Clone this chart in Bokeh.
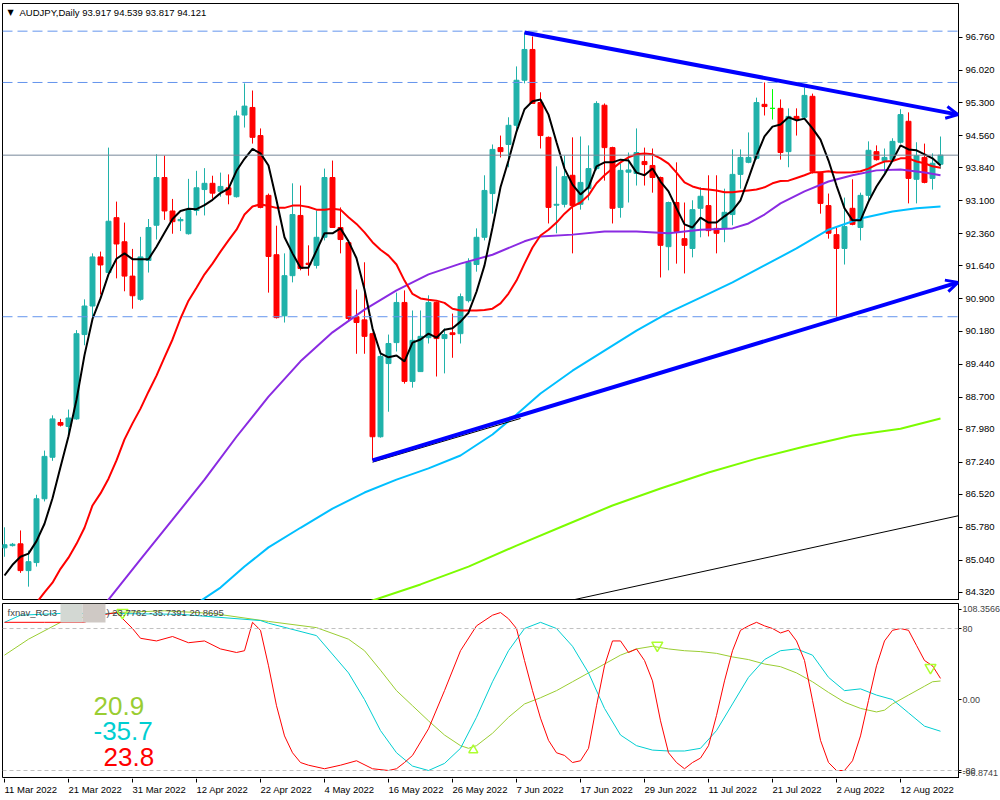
from bokeh.plotting import figure
from bokeh.layouts import column
from bokeh.core.properties import value
from bokeh.models import (Range1d, FixedTicker, PrintfTickFormatter, Span, Label,
                          Arrow, OpenHead, BoxAnnotation)
from bokeh.embed import file_html
from bokeh.resources import INLINE

FONT = "Liberation Sans"
FS = "9.5px"

# ---------------- data ----------------
date_labels = ["11 Mar 2022", "21 Mar 2022", "31 Mar 2022", "12 Apr 2022", "22 Apr 2022",
               "4 May 2022", "16 May 2022", "26 May 2022", "7 Jun 2022", "17 Jun 2022",
               "29 Jun 2022", "11 Jul 2022", "21 Jul 2022", "2 Aug 2022", "12 Aug 2022"]
date_label_bars = [0, 8, 16, 24, 32, 40, 48, 56, 64, 72, 80, 88, 96, 104, 112]

opens = [85.32, 85.37, 85.41, 84.81, 84.99, 86.42, 87.35, 88.13, 88.04, 88.21,
         90.10, 90.74, 91.84, 91.49, 92.72, 92.18, 91.41, 90.89, 91.76, 92.55,
         93.62, 92.87, 92.65, 92.36, 92.88, 93.35, 93.49, 93.31, 93.39, 93.19,
         95.02, 95.19, 94.56, 93.22, 91.89, 90.52, 91.42, 92.77, 91.70, 91.65,
         92.28, 93.62, 92.50, 92.16, 90.50, 90.43, 90.12, 87.81, 89.45, 89.92,
         90.82, 89.05, 89.27, 90.03, 90.82, 90.01, 90.14, 90.12, 90.86, 91.67,
         92.28, 93.26, 94.29, 94.36, 94.79, 95.80, 96.49, 95.30, 94.52, 93.00,
         93.02, 93.67, 93.02, 93.37, 93.82, 95.24, 94.29, 92.95, 93.74, 93.71,
         93.98, 93.89, 93.62, 92.07, 93.06, 92.25, 92.03, 92.93, 92.99, 92.48,
         92.48, 92.79, 93.69, 93.96, 94.05, 95.26, 95.17, 95.17, 94.20, 94.99,
         94.97, 95.44, 93.73, 92.99, 92.34, 92.03, 92.93, 92.50, 93.22, 94.20,
         94.00, 94.02, 94.41, 94.88, 93.58, 94.07, 93.60, 93.917]
highs = [85.78, 85.43, 85.71, 85.26, 86.51, 87.50, 88.29, 88.21, 88.42, 90.20,
         90.89, 91.92, 91.96, 94.29, 93.08, 92.61, 92.02, 92.29, 92.69, 94.14,
         94.11, 93.14, 92.73, 93.59, 93.77, 93.83, 93.66, 93.73, 93.69, 95.12,
         95.73, 95.57, 94.72, 93.26, 92.54, 91.92, 93.49, 93.44, 92.10, 92.88,
         93.82, 94.00, 92.95, 92.18, 91.11, 91.72, 90.14, 89.67, 90.10, 91.04,
         91.09, 90.64, 90.64, 90.98, 90.84, 90.24, 90.57, 91.02, 91.81, 92.48,
         93.67, 94.36, 94.56, 94.97, 96.11, 96.87, 96.78, 95.53, 94.54, 93.87,
         94.11, 94.52, 94.54, 94.34, 95.33, 95.28, 94.31, 93.93, 94.18, 94.72,
         94.29, 94.27, 93.64, 93.08, 93.96, 93.06, 93.11, 93.40, 93.67, 93.67,
         93.37, 94.25, 94.25, 94.63, 95.41, 95.75, 95.60, 95.37, 95.17, 95.17,
         95.64, 95.50, 93.75, 93.26, 92.50, 93.17, 93.58, 93.28, 94.43, 94.34,
         94.27, 94.50, 95.15, 95.08, 94.41, 94.38, 94.16, 94.539]
lows = [85.12, 85.35, 84.76, 84.45, 84.90, 86.36, 87.27, 88.04, 87.83, 88.19,
        89.86, 90.47, 91.00, 91.46, 91.36, 91.07, 90.68, 90.86, 91.49, 92.23,
        92.67, 92.36, 92.42, 92.34, 92.77, 92.77, 93.15, 93.19, 93.02, 93.17,
        94.74, 94.38, 92.93, 91.04, 90.46, 90.37, 91.27, 91.54, 91.42, 91.58,
        92.21, 92.50, 91.92, 90.41, 89.67, 89.67, 87.28, 87.79, 88.37, 89.72,
        89.00, 88.91, 89.27, 89.90, 89.16, 89.23, 89.58, 89.90, 90.82, 91.51,
        92.21, 92.81, 94.07, 93.85, 94.63, 95.73, 95.28, 94.27, 92.59, 92.37,
        92.95, 91.92, 92.90, 93.11, 93.78, 93.55, 92.59, 92.72, 93.06, 93.44,
        93.44, 93.28, 91.38, 91.54, 91.69, 91.47, 91.83, 92.28, 92.30, 91.92,
        92.17, 92.55, 93.37, 93.94, 94.02, 95.01, 94.92, 94.02, 93.85, 94.56,
        94.92, 93.71, 92.81, 92.25, 90.48, 91.67, 92.55, 92.21, 93.11, 94.00,
        93.73, 94.00, 94.38, 93.04, 93.04, 93.49, 93.35, 93.817]
closes = [85.39, 85.40, 84.81, 85.01, 86.42, 87.37, 88.21, 88.07, 88.23, 90.12,
          90.74, 91.84, 91.66, 92.64, 92.13, 91.41, 90.97, 91.84, 92.50, 93.62,
          92.87, 92.63, 92.68, 92.88, 93.39, 93.49, 93.27, 93.42, 93.23, 95.00,
          95.22, 94.52, 92.95, 91.85, 90.48, 91.42, 92.79, 91.58, 91.67, 92.28,
          93.62, 92.50, 92.23, 90.46, 90.37, 90.06, 87.81, 89.61, 89.90, 90.82,
          89.05, 89.97, 90.06, 90.82, 90.01, 90.10, 90.10, 90.95, 91.72, 92.28,
          93.33, 94.25, 94.20, 94.79, 95.80, 96.49, 95.28, 94.56, 92.95, 93.02,
          93.64, 92.99, 93.51, 93.82, 95.28, 94.29, 92.93, 93.78, 93.79, 94.18,
          93.91, 93.62, 92.10, 93.06, 92.41, 92.10, 92.90, 93.20, 92.43, 92.37,
          92.84, 93.69, 94.07, 94.07, 95.30, 95.21, 95.17, 94.18, 94.99, 94.92,
          95.46, 93.76, 93.04, 92.37, 92.03, 92.52, 92.57, 93.22, 94.23, 94.02,
          94.07, 94.43, 95.03, 93.60, 94.11, 93.51, 93.94, 94.121]

ma_fast = [84.70, 84.94, 85.12, 85.19, 85.47, 85.86, 86.43, 87.13, 87.82, 88.64,
           89.64, 90.45, 90.91, 91.45, 91.80, 91.92, 91.79, 91.79, 91.79, 92.07,
           92.38, 92.69, 92.87, 92.92, 92.91, 93.00, 93.12, 93.27, 93.37, 93.77,
           94.04, 94.26, 94.16, 93.89, 93.11, 92.28, 91.92, 91.60, 91.60, 91.98,
           92.37, 92.37, 92.48, 92.19, 91.81, 91.11, 90.24, 89.68, 89.59, 89.63,
           89.50, 89.92, 89.99, 90.12, 90.03, 90.21, 90.24, 90.39, 90.59, 91.06,
           91.65, 92.50, 93.40, 94.00, 94.65, 95.15, 95.33, 95.37, 95.03, 94.41,
           93.82, 93.46, 93.24, 93.40, 93.87, 93.96, 93.96, 94.02, 94.00, 93.73,
           93.67, 93.82, 93.53, 93.31, 92.93, 92.57, 92.50, 92.72, 92.61, 92.61,
           92.75, 92.88, 93.11, 93.60, 94.11, 94.54, 94.76, 94.81, 94.97, 94.90,
           94.94, 94.72, 94.47, 94.00, 93.44, 92.93, 92.66, 92.66, 93.08, 93.42,
           93.69, 94.00, 94.34, 94.25, 94.23, 94.14, 94.05, 93.89]
ma_red = [83.13, 83.42, 83.69, 83.89, 84.09, 84.32, 84.54, 84.85, 85.10, 85.41,
          85.77, 86.27, 86.54, 86.87, 87.28, 87.75, 88.11, 88.44, 88.82, 89.18,
          89.59, 89.99, 90.46, 90.86, 91.15, 91.45, 91.69, 91.96, 92.21, 92.45,
          92.79, 92.97, 93.02, 92.98, 92.94, 92.94, 92.99, 92.99, 92.96, 92.90,
          92.90, 92.92, 92.90, 92.73, 92.58, 92.39, 92.17, 92.00, 91.87, 91.67,
          91.31, 91.01, 90.91, 90.88, 90.86, 90.81, 90.68, 90.64, 90.64, 90.64,
          90.65, 90.68, 90.80, 91.02, 91.31, 91.69, 92.05, 92.32, 92.45, 92.61,
          92.81, 92.97, 93.06, 93.22, 93.49, 93.67, 93.82, 93.96, 94.07, 94.14,
          94.16, 94.14, 94.05, 93.93, 93.73, 93.51, 93.42, 93.37, 93.35, 93.33,
          93.29, 93.29, 93.31, 93.33, 93.35, 93.40, 93.49, 93.54, 93.55, 93.61,
          93.67, 93.74, 93.74, 93.76, 93.73, 93.73, 93.74, 93.76, 93.82, 93.91,
          93.98, 93.99, 94.05, 94.05, 93.98, 93.94, 93.87, 93.84]
ma_purple_bars = [10, 13, 17, 21, 25, 29, 33, 37, 41, 45, 49, 53, 57, 61, 65, 67, 71, 75, 79, 83,
                  87, 91, 93, 95, 97, 100, 103, 106, 109, 112, 115, 117]
ma_purple = [83.46, 84.16, 85.06, 85.95, 86.85, 87.81, 88.71, 89.50, 90.15, 90.66,
             91.09, 91.45, 91.69, 91.89, 92.19, 92.30, 92.34, 92.41, 92.41, 92.37,
             92.45, 92.48, 92.59, 92.79, 93.04, 93.31, 93.53, 93.67, 93.78, 93.80,
             93.73, 93.67]
ma_cyan_bars = [24, 27, 30, 33, 37, 41, 45, 49, 53, 57, 61, 64, 67, 71, 75, 79, 83, 87, 91, 95,
                99, 103, 107, 111, 114, 117]
ma_cyan = [84.07, 84.43, 84.90, 85.33, 85.77, 86.20, 86.56, 86.85, 87.10, 87.39,
           87.86, 88.31, 88.78, 89.29, 89.74, 90.19, 90.59, 90.93, 91.27, 91.65,
           92.03, 92.45, 92.70, 92.86, 92.93, 92.97]
ma_lime_bars = [40, 46, 52, 58, 64, 70, 76, 82, 88, 94, 100, 106, 112, 117]
ma_lime = [83.76, 84.14, 84.50, 84.90, 85.37, 85.82, 86.27, 86.65, 87.01, 87.32,
           87.59, 87.84, 87.99, 88.22]

thin_line_bars = [60, 119.25]
thin_line_prices = [83.72, 86.04]
upper_trend_bars = [65, 119.2]
upper_trend_prices = [96.87, 95.03]
lower_trend_bars = [46, 119.2]
lower_trend_prices = [87.28, 91.27]

hlines = [96.900, 95.750, 90.500]
last_price = 94.121
price_ticks = [84.32, 85.04, 85.78, 86.52, 87.24, 87.98, 88.70, 89.44, 90.18, 90.90,
               91.64, 92.36, 93.10, 93.84, 94.56, 95.30, 96.02, 96.76]

rci_scale_max = "108.3566"
rci_scale_min = "-96.8741"
rci_red_bars = [0, 5, 10, 12, 14, 16, 17, 19, 21, 23, 25, 27, 29, 30, 31, 32, 33, 34, 35, 36,
                37, 38, 40, 42, 44, 46, 48, 49, 50, 51, 53, 55, 57, 59, 61, 62, 63, 64, 65, 66,
                67, 68, 69, 70, 71, 72, 73, 74, 75, 76, 77, 78, 79, 80, 81, 82, 83, 84, 85, 86,
                87, 88, 89, 90, 91, 92, 93, 94, 95, 96, 97, 98, 99, 100, 101, 102, 103, 104, 105, 106,
                107, 108, 109, 110, 111, 112, 113, 114, 115, 116, 117]
rci_red = [87, 87, 87, 95, 98, 80, 69, 66, 71, 64, 66, 57, 53, 55, 87, 78, 38, -7, -41, -60,
           -71, -74, -78, -74, -69, -78, -80, -78, -71, -63, -33, 10, 55, 83, 95, 98, 91, 80, 44, 10,
           -21, -46, -60, -63, -71, -69, -55, -7, 38, 66, 66, 53, 57, 44, 21, -24, -60, -71, -78, -71,
           -66, -52, -18, 21, 55, 78, 83, 87, 83, 80, 75, 78, 66, 44, -1, -46, -71, -80, -80, -69,
           -41, -1, 38, 66, 78, 80, 78, 61, 44, 38, 23.78]
rci_cyan_bars = [0, 2, 7, 13, 22, 32, 33, 39, 43, 45, 47, 49, 51, 53, 55, 57, 59, 61, 63, 65,
                 67, 69, 71, 73, 75, 77, 79, 81, 83, 85, 87, 89, 91, 93, 95, 97, 99, 101, 103, 105,
                 107, 109, 111, 113, 115, 117]
rci_cyan = [87, 95, 97, 97, 96, 89, 86, 72, 30, 0, -35, -60, -75, -80, -72, -55, -20, 20, 55, 80,
            87, 80, 60, 30, -10, -40, -52, -57, -58, -58, -55, -35, -5, 25, 45, 55, 57, 50, 25, 10,
            12, 5, 0, -15, -30, -35.74]
rci_green_bars = [0, 3, 7, 11, 14, 20, 26, 33, 39, 43, 45, 47, 49, 51, 53, 55, 57, 58, 59, 61,
                  63, 65, 67, 69, 71, 73, 75, 77, 79, 81, 83, 85, 87, 89, 91, 93, 95, 97, 99, 101,
                  103, 105, 107, 109, 110, 111, 113, 115, 116, 117]
rci_green = [50, 68, 87, 95, 98, 100, 97, 88, 81, 68, 55, 33, 10, -7, -24, -40, -52, -55, -52, -38,
             -20, -5, 2, 10, 20, 30, 40, 50, 57, 60, 57, 55, 54, 52, 48, 45, 40, 37, 30, 20,
             8, -3, -10, -14, -12, -5, 5, 15, 20, 20.87]
sig_down_bars = [14.75, 81.6, 115.75]
sig_down_vals = [98, 61, 36]
sig_up_bars = [58.6]
sig_up_vals = [-57]
rci_last = ["20.9", "-35.7", "23.8"]
rci_header = [23.7762, -35.7391, 20.8695]

# ---------------- main price panel ----------------
N = len(closes)
bars = list(range(N))
BULL, BEAR, DOJI = "#20B2AA", "#FF0000", "#00FF00"
colors = [BULL if c > o else (BEAR if c < o else DOJI) for o, c in zip(opens, closes)]
tops = [max(o, c) for o, c in zip(opens, closes)]
bots = [min(o, c) for o, c in zip(opens, closes)]

xr = Range1d(-0.25, 119.25)
p = figure(frame_width=956, frame_height=597, x_range=xr, y_range=Range1d(84.14, 97.52),
           y_axis_location="right", output_backend="svg", toolbar_location=None,
           min_border_left=2, min_border_top=3, min_border_bottom=0, min_border_right=42,
           background_fill_color="white", border_fill_color="white")
p.outline_line_color = "black"
p.grid.visible = False
p.xaxis.visible = False
ya = p.yaxis[0]
ya.ticker = FixedTicker(ticks=price_ticks)
ya.formatter = PrintfTickFormatter(format="%.3f")
ya.major_label_text_font = FONT
ya.major_label_text_font_size = FS
ya.major_label_text_color = "black"
ya.major_tick_in = 0
ya.major_tick_out = 4
ya.minor_tick_line_color = None
ya.major_label_standoff = 3
ya.axis_line_color = "black"

for lv in hlines:
    p.add_layout(Span(location=lv, dimension="width", line_color="#6495ED",
                      line_width=1, line_dash="10 5"))
p.add_layout(Span(location=last_price, dimension="width", line_color="#778899", line_width=1))

p.segment(bars, lows, bars, highs, line_color=colors, line_width=1)
p.vbar(x=bars, width=0.62, top=tops, bottom=bots, fill_color=colors, line_color=colors)

p.line(thin_line_bars, thin_line_prices, line_color="black", line_width=1)
p.line(ma_lime_bars, ma_lime, line_color="#7CFC00", line_width=2)
p.line(ma_cyan_bars, ma_cyan, line_color="#00BFFF", line_width=2)
p.line(ma_purple_bars, ma_purple, line_color="#8A2BE2", line_width=2)
p.line(bars, ma_red, line_color="#FF0000", line_width=2)
p.line(bars, ma_fast, line_color="black", line_width=2)

for bx, py in ((upper_trend_bars, upper_trend_prices), (lower_trend_bars, lower_trend_prices)):
    p.add_layout(Arrow(x_start=bx[0], y_start=py[0], x_end=bx[1], y_end=py[1],
                       line_color="#0000FF", line_width=4,
                       end=OpenHead(line_color="#0000FF", line_width=3, size=12)))
p.line([lower_trend_bars[0], 64.5], [lower_trend_prices[0] - 0.04, 88.22],
       line_color="black", line_width=1)

for lv in hlines:
    p.add_layout(Label(x=119.25, y=lv, x_offset=2, text="%.3f" % lv, text_baseline="middle",
                       text_font=FONT, text_font_size=FS, text_color="white",
                       background_fill_color="#6495ED"))
p.add_layout(Label(x=119.25, y=last_price, x_offset=1, text="%.3f" % last_price,
                   text_baseline="middle", text_font=FONT, text_font_size=FS,
                   text_color="white", background_fill_color="black"))

p.add_layout(Label(x=5, y=588, x_units="screen", y_units="screen", text="\u25BC",
                   text_font="DejaVu Sans", text_font_size="8px", text_color="black",
                   text_baseline="middle"))
p.add_layout(Label(x=17, y=588, x_units="screen", y_units="screen",
                   text="AUDJPY,Daily  %.3f %.3f %.3f %.3f" % (opens[-1], highs[-1], lows[-1], closes[-1]),
                   text_font=FONT, text_font_size=FS, text_color="black",
                   text_baseline="middle"))

# ---------------- RCI sub panel ----------------
s = figure(frame_width=956, frame_height=175, x_range=xr, y_range=Range1d(-89.0, 108.2),
           y_axis_location="right", x_axis_location=None, output_backend="svg",
           toolbar_location=None,
           min_border_left=2, min_border_top=3, min_border_right=42, min_border_bottom=0,
           background_fill_color="white", border_fill_color="white")
s.outline_line_color = "black"
s.grid.visible = False
sy = s.yaxis[0]
# the window's scale extremes are written just inside its top and bottom edge
sy.ticker = FixedTicker(ticks=[101.5, 80, 0, -80, -82.5])
sy.major_label_overrides = {101.5: rci_scale_max, 80: "80", 0: "0.00", -80: "-80",
                            -82.5: rci_scale_min}
sy.major_label_text_font = FONT
sy.major_label_text_font_size = "9px"
sy.major_tick_in = 0
sy.major_tick_out = 3
sy.minor_tick_line_color = None
sy.major_label_standoff = 1
sy.axis_line_color = "black"

for lv in (80, -80):
    s.add_layout(Span(location=lv, dimension="width", line_color="#C0C0C0",
                      line_width=1, line_dash="4 3"))

s.line(rci_green_bars, rci_green, line_color="#9ACD32", line_width=1)
s.line(rci_cyan_bars, rci_cyan, line_color="#00CED1", line_width=1)
s.line(rci_red_bars, rci_red, line_color="#FF0000", line_width=1)
s.scatter(sig_down_bars, sig_down_vals, marker="inverted_triangle", size=11,
          fill_color=None, line_color="#ADFF2F", line_width=1.5)
s.scatter(sig_up_bars, sig_up_vals, marker="triangle", size=9,
          fill_color=None, line_color="#ADFF2F", line_width=1.5)

s.add_layout(BoxAnnotation(left=58, right=80, top=175, bottom=156, left_units="screen",
                           right_units="screen", top_units="screen", bottom_units="screen",
                           fill_color="#D3D8D3", fill_alpha=1, line_color=None))
s.add_layout(BoxAnnotation(left=80, right=103, top=175, bottom=156, left_units="screen",
                           right_units="screen", top_units="screen", bottom_units="screen",
                           fill_color="#CFC9C5", fill_alpha=1, line_color=None))
s.add_layout(Label(x=5, y=166, x_units="screen", y_units="screen", text="fxnav_RCI3",
                   text_font=FONT, text_font_size=FS, text_baseline="middle"))
s.add_layout(Label(x=104, y=166, x_units="screen", y_units="screen",
                   text=") %.4f %.4f %.4f" % tuple(rci_header),
                   text_font=FONT, text_font_size=FS, text_baseline="middle"))

for txt, col, xx, yy in zip(rci_last, ["#9ACD32", "#00CED1", "#FF0000"], [91, 91, 101], [73, 48, 22]):
    s.add_layout(Label(x=xx, y=yy, x_units="screen", y_units="screen", text=txt,
                       text_font=FONT, text_font_size="26px", text_color=col,
                       text_baseline="middle"))

# ---------------- date strip (labels to the right of each tick, as in the terminal) ----------------
d = figure(frame_width=956, frame_height=22, x_range=xr, y_range=Range1d(0, 22),
           x_axis_location=None, y_axis_location=None, output_backend="svg",
           toolbar_location=None, min_border_left=2, min_border_top=0, min_border_right=42,
           min_border_bottom=0, background_fill_color="white", border_fill_color="white")
d.outline_line_color = None
d.grid.visible = False
d.segment(x0=date_label_bars, y0=[22] * len(date_label_bars), x1=date_label_bars,
          y1=[18] * len(date_label_bars), line_color="black", line_width=1)
d.text(x=date_label_bars, y=[16.5] * len(date_label_bars), text=date_labels, x_offset=0,
       text_font=value(FONT), text_font_size=FS, text_color="black",
       text_baseline="top", text_align="left")

layout = column(p, s, d, spacing=0)
open("out.html", "w").write(file_html(layout, INLINE))
